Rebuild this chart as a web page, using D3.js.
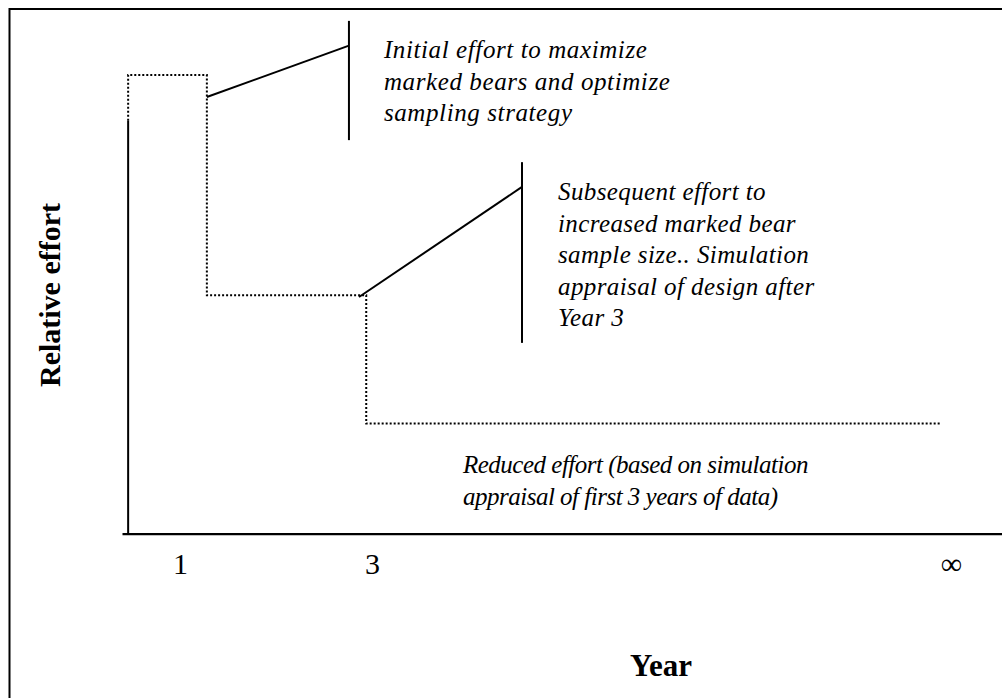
<!DOCTYPE html>
<html>
<head>
<meta charset="utf-8">
<script src="https://cdn.jsdelivr.net/npm/d3@7"></script>
<style>
  html, body { margin: 0; padding: 0; background: #fff; }
  svg text { font-family: "Liberation Serif", "Times New Roman", serif; fill: #000; }
</style>
</head>
<body>
<div id="chart"></div>
<script>
// x axis runs in "years" (1 and 3 are real ticks, infinity sits at the far end)
var yearExtent = [0.396, 9.5625];
var tickYears = [1, 3, 9.03];
var tickLabels = ['1', '3', '\u221E'];

// relative effort, arbitrary units
var effortExtent = [0, 100];
var yAxisTop = 90;

// the dotted effort profile
var stepYears = [0.46, 1.28, 2.94, 8.92];
var stepEffort = [100, 52, 24];

// callouts: leader start, leader end on the bar, bar extent
var calloutFrom = [[1.28, 95.2], [2.865, 51.6]];
var calloutTo = [[2.76, 106.4], [4.5625, 75.6]];
var calloutBar = [[111.8, 85.8], [81.0, 41.6]];

var note1 = ['Initial effort to maximize', 'marked bears and optimize', 'sampling strategy'];
var note2 = ['Subsequent effort to', 'increased marked bear', 'sample size.. Simulation',
             'appraisal of design after', 'Year 3'];
var note3 = ['Reduced effort (based on simulation', 'appraisal of first 3 years of data)'];

var W = 1002, H = 698;

var svg = d3.select('#chart').append('svg')
    .attr('width', W)
    .attr('height', H);

var x = d3.scaleLinear().domain(yearExtent).range([122, 1002]);
var y = d3.scaleLinear().domain(effortExtent).range([533.7, 75]);

// frame (top + left only)
svg.append('path')
  .attr('d', 'M9.5,' + H + 'V9H' + W)
  .style('fill', 'none')
  .style('stroke', '#000')
  .style('stroke-width', 2);

// x axis
var xAxis = d3.axisBottom(x)
  .tickValues(tickYears)
  .tickSize(0)
  .tickPadding(19)
  .tickFormat(function(d, i) { return tickLabels[i]; });

var gx = svg.append('g')
  .attr('transform', 'translate(0,' + y(0) + ')')
  .call(xAxis);
gx.select('.domain').style('stroke', '#000').style('stroke-width', 2.2);
gx.selectAll('text')
  .style('font-size', '30px')
  .style('font-family', '"Liberation Serif", "Times New Roman", serif');

// y axis (plain line)
svg.append('line')
  .attr('x1', x(stepYears[0])).attr('x2', x(stepYears[0]))
  .attr('y1', y(0)).attr('y2', y(yAxisTop))
  .style('stroke', '#000')
  .style('stroke-width', 2);

// dotted step profile
var pts = [[stepYears[0], yAxisTop]];
stepEffort.forEach(function(e, i) {
  pts.push([stepYears[i], e]);
  pts.push([stepYears[i + 1], e]);
});

svg.append('path')
  .attr('d', d3.line().x(function(d) { return x(d[0]); }).y(function(d) { return y(d[1]); })(pts))
  .style('fill', 'none')
  .style('stroke', '#000')
  .style('stroke-width', 2)
  .style('stroke-dasharray', '2,2');

// callout leaders and bars
calloutFrom.forEach(function(f, i) {
  var t = calloutTo[i];
  svg.append('line')
    .attr('x1', x(f[0])).attr('y1', y(f[1]))
    .attr('x2', x(t[0])).attr('y2', y(t[1]))
    .style('stroke', '#000').style('stroke-width', 2);
  svg.append('line')
    .attr('x1', x(t[0])).attr('x2', x(t[0]))
    .attr('y1', y(calloutBar[i][0])).attr('y2', y(calloutBar[i][1]))
    .style('stroke', '#000').style('stroke-width', 2);
});

function note(lines, x0, y0, spacing) {
  var t = svg.append('text')
    .attr('x', x0)
    .attr('y', y0)
    .style('font-size', '25px')
    .style('font-style', 'italic')
    .style('letter-spacing', spacing + 'px');
  lines.forEach(function(l, i) {
    t.append('tspan').attr('x', x0).attr('dy', i ? 31.6 : 0).text(l);
  });
}

note(note1, x(calloutTo[0][0]) + 35, 58, 0.6);
note(note2, x(calloutTo[1][0]) + 36, 200, 0.4);
note(note3, 463, 473, -0.5);

// axis titles
svg.append('text')
  .attr('transform', 'translate(60,295) rotate(-90)')
  .attr('text-anchor', 'middle')
  .style('font-size', '30px')
  .style('font-weight', 'bold')
  .text('Relative effort');

svg.append('text')
  .attr('x', 630)
  .attr('y', 676)
  .style('font-size', '31px')
  .style('font-weight', 'bold')
  .text('Year');
</script>
</body>
</html>
